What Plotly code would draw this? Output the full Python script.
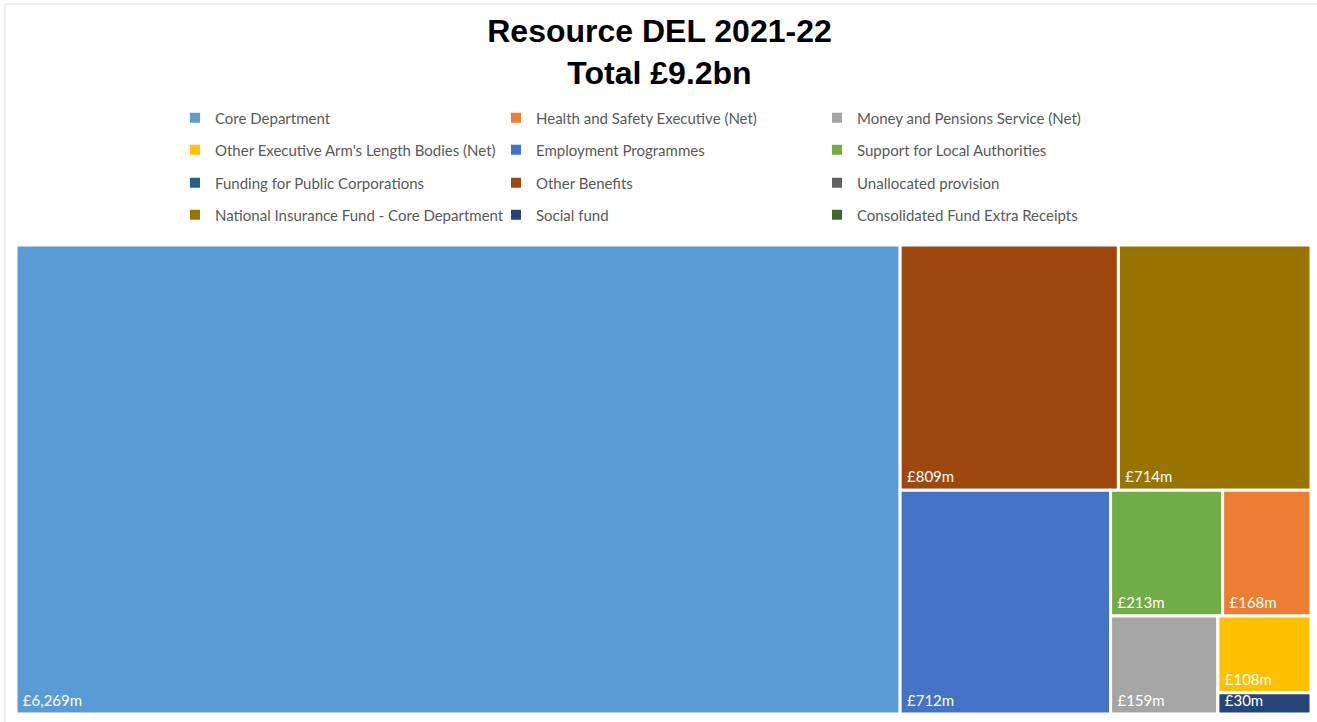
import plotly.graph_objects as go

# Treemap data
tile_labels = ["Core Department", "Other Benefits", "National Insurance Fund - Core Department",
               "Employment Programmes", "Support for Local Authorities", "Health and Safety Executive (Net)",
               "Money and Pensions Service (Net)", "Other Executive Arm's Length Bodies (Net)", "Social fund"]
tile_values = [6269, 809, 714, 712, 213, 168, 159, 108, 30]

# Legend entries (row-major order as in the reference)
legend_rows = [
    ["Core Department", "Health and Safety Executive (Net)", "Money and Pensions Service (Net)"],
    ["Other Executive Arm's Length Bodies (Net)", "Employment Programmes", "Support for Local Authorities"],
    ["Funding for Public Corporations", "Other Benefits", "Unallocated provision"],
    ["National Insurance Fund - Core Department", "Social fund", "Consolidated Fund Extra Receipts"],
]

colors = {
    "Core Department": "#5B9BD5",
    "Health and Safety Executive (Net)": "#ED7D31",
    "Money and Pensions Service (Net)": "#A5A5A5",
    "Other Executive Arm's Length Bodies (Net)": "#FFC000",
    "Employment Programmes": "#4472C4",
    "Support for Local Authorities": "#70AD47",
    "Funding for Public Corporations": "#255E91",
    "Other Benefits": "#9E480E",
    "Unallocated provision": "#636363",
    "National Insurance Fund - Core Department": "#997300",
    "Social fund": "#264478",
    "Consolidated Fund Extra Receipts": "#43682B",
}

W, H = 1317, 722
ML, MR, MT, MB = 16, 6, 245, 8

fig = go.Figure()
fig.add_trace(go.Treemap(
    labels=tile_labels,
    parents=[""] * len(tile_labels),
    values=tile_values,
    marker=dict(colors=[colors[l] for l in tile_labels], line=dict(color="white", width=3),
                pad=dict(t=0, l=0, r=0, b=0)),
    texttemplate="\u00a0£%{value:,.0f}m<sub>\u00a0</sub>",
    textposition="bottom left",
    textfont=dict(family="Lato", size=15, color="white"),
    tiling=dict(packing="squarify", pad=0),
    pathbar=dict(visible=False),
    sort=True,
    hoverinfo="label+value",
    domain=dict(x=[0, 1], y=[0, 1]),
))

legend_names = ["legend", "legend2", "legend3", "legend4"]
row_y = [118, 150, 183, 215]
for r, row in enumerate(legend_rows):
    for name in row:
        fig.add_trace(go.Scatter(
            x=[None], y=[None], mode="markers", name=name,
            marker=dict(symbol="square", size=10, color=colors[name]),
            legend=legend_names[r], showlegend=True, hoverinfo="skip",
        ))

legend_common = dict(
    orientation="h", xref="container", yref="container",
    x=175 / W, xanchor="left", yanchor="middle",
    entrywidth=276, entrywidthmode="pixels",
    font=dict(family="Lato", size=15, color="#595959"),
    itemclick=False, itemdoubleclick=False,
    bgcolor="rgba(0,0,0,0)",
)
legends = {}
for r, ln in enumerate(legend_names):
    legends[ln] = dict(legend_common, y=1 - row_y[r] / H)

fig.update_layout(
    width=W, height=H,
    margin=dict(l=ML, r=MR, t=MT, b=MB, autoexpand=False),
    paper_bgcolor="white", plot_bgcolor="white",
    uniformtext=dict(mode="show", minsize=15),
    title=dict(
        text="<b>Resource DEL 2021-22<br>Total £9.2bn</b>",
        x=0.5 + 1 / W, xanchor="center", xref="container",
        y=1 - 42 / H, yanchor="middle", yref="container",
        font=dict(family="Liberation Sans", size=32, color="black"),
    ),
    xaxis=dict(visible=False), yaxis=dict(visible=False),
    shapes=[dict(type="rect", xref="paper", yref="paper",
                 x0=(5 - ML) / (W - ML - MR), x1=(1330 - ML) / (W - ML - MR),
                 y0=(H - MB - 730) / (H - MT - MB), y1=(H - MB - 4) / (H - MT - MB),
                 line=dict(color="#D9D9D9", width=1), layer="below")],
    **legends,
)

fig.write_html("out.html")
